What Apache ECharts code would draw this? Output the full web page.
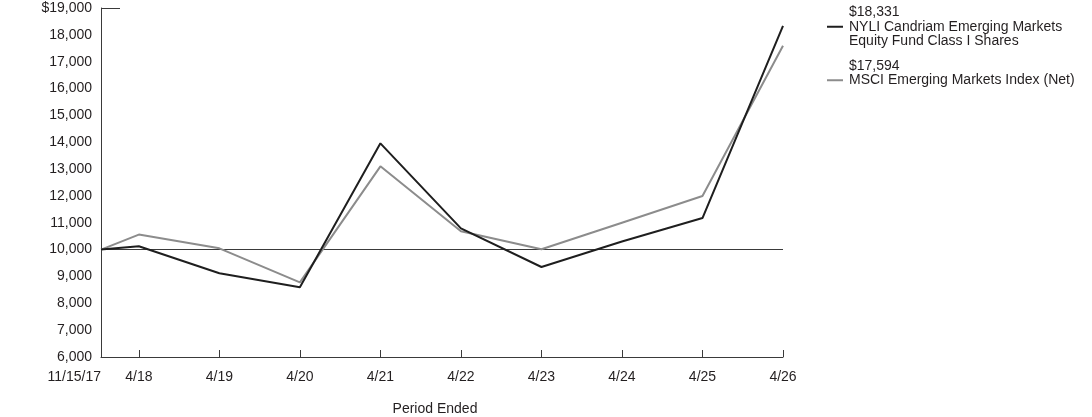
<!DOCTYPE html>
<html>
<head>
<meta charset="utf-8">
<script src="https://cdn.jsdelivr.net/npm/echarts@6/dist/echarts.min.js"></script>
<style>
  html, body { margin: 0; padding: 0; background: #fff; }
  #main { width: 1092px; height: 417px; }
</style>
</head>
<body>
<div id="main"></div>
<script>
// period labels and their position in years after 4/18
var periods = ['11/15/17', '4/18', '4/19', '4/20', '4/21', '4/22', '4/23', '4/24', '4/25', '4/26'];
var xPos = [-0.47, 0, 1, 2, 3, 4, 5, 6, 7, 8];

var fundName = 'NYLI Candriam Emerging Markets Equity Fund Class I Shares';
var fundValues = [10000, 10123, 9117, 8596, 13959, 10793, 9352, 10300, 11177, 18331];

var indexName = 'MSCI Emerging Markets Index (Net)';
var indexValues = [10000, 10559, 10048, 8782, 13102, 10682, 10011, 11000, 11996, 17594];

var yTicks = [6000, 19000, 1000]; // min, max, step

var textColor = '#231f20';
var axisColor = '#3a3a3a';
var font = 'Liberation Sans, Arial, sans-serif';

function pairs(vals) {
	return xPos.map(function(x, i){ return [x, vals[i]]; });
}
function money(v) {
	return '$' + v.toLocaleString('en-US');
}
function periodLabel(v) {
	var best = 0;
	xPos.forEach(function(x, i){
		if (Math.abs(x - v) < Math.abs(xPos[best] - v)) best = i;
	});
	return periods[best];
}

var legendText = {};
legendText[fundName] = money(fundValues[fundValues.length - 1]) + '\nNYLI Candriam Emerging Markets\nEquity Fund Class I Shares';
legendText[indexName] = money(indexValues[indexValues.length - 1]) + '\n' + indexName + '\n';

var myChart = echarts.init(document.getElementById('main'));

var labelStyle = { margin: 13, fontSize: 14, color: textColor, fontFamily: font, formatter: periodLabel };

var option = {
	animation: false,
	textStyle: { fontFamily: font },
	grid: { left: 101, right: 309, top: 8, bottom: 60, outerBoundsMode: 'none' },
	legend: {
		orient: 'vertical',
		left: 827,
		top: 5,
		padding: 0,
		itemGap: 10,
		itemWidth: 16,
		itemHeight: 2,
		icon: 'rect',
		selectedMode: false,
		data: [fundName, indexName],
		formatter: function(name){ return legendText[name]; },
		textStyle: { fontSize: 14, lineHeight: 14.5, color: textColor, fontFamily: font, padding: [0, 0, 0, 1] }
	},
	xAxis: [
		{
			type: 'value',
			min: xPos[0],
			max: xPos[xPos.length - 1],
			name: 'Period Ended',
			nameLocation: 'middle',
			nameGap: 45,
			nameTextStyle: { fontSize: 14, color: textColor, fontFamily: font, padding: [0, 14, 0, 0] },
			splitLine: { show: false },
			axisLine: { show: true, onZero: false, lineStyle: { color: axisColor, width: 1 } },
			axisTick: { show: true, inside: true, length: 7, customValues: xPos, lineStyle: { color: axisColor } },
			axisLabel: Object.assign({ customValues: xPos.slice(1), showMaxLabel: true }, labelStyle)
		},
		{
			// start date label sits flush right against the y axis
			type: 'value',
			position: 'bottom',
			min: xPos[0],
			max: xPos[xPos.length - 1],
			splitLine: { show: false },
			axisLine: { show: false, onZero: false },
			axisTick: { show: false },
			axisLabel: Object.assign({ customValues: [xPos[0]], showMinLabel: true, align: 'right' }, labelStyle)
		}
	],
	yAxis: {
		type: 'value',
		min: yTicks[0],
		max: yTicks[1],
		interval: yTicks[2],
		splitLine: { show: false },
		axisLine: { show: true, onZero: false, lineStyle: { color: axisColor, width: 1 } },
		axisTick: { show: true, inside: true, length: 19, customValues: [yTicks[1]], lineStyle: { color: axisColor } },
		axisLabel: {
			margin: 9,
			fontSize: 14,
			color: textColor,
			fontFamily: font,
			formatter: function(v){
				return v === yTicks[1] ? money(v) : v.toLocaleString('en-US');
			}
		}
	},
	series: [
		{
			name: indexName,
			type: 'line',
			symbol: 'none',
			data: pairs(indexValues),
			lineStyle: { color: '#8c8c8c', width: 2 },
			itemStyle: { color: '#8c8c8c' },
			z: 3
		},
		{
			name: fundName,
			type: 'line',
			symbol: 'none',
			data: pairs(fundValues),
			lineStyle: { color: '#1e1e1e', width: 2 },
			itemStyle: { color: '#1e1e1e' },
			z: 4,
			markLine: {
				silent: true,
				symbol: 'none',
				label: { show: false },
				lineStyle: { color: axisColor, width: 1, type: 'solid' },
				data: [{ yAxis: 10000 }],
				z: 2
			}
		}
	]
};

myChart.setOption(option);
</script>
</body>
</html>
